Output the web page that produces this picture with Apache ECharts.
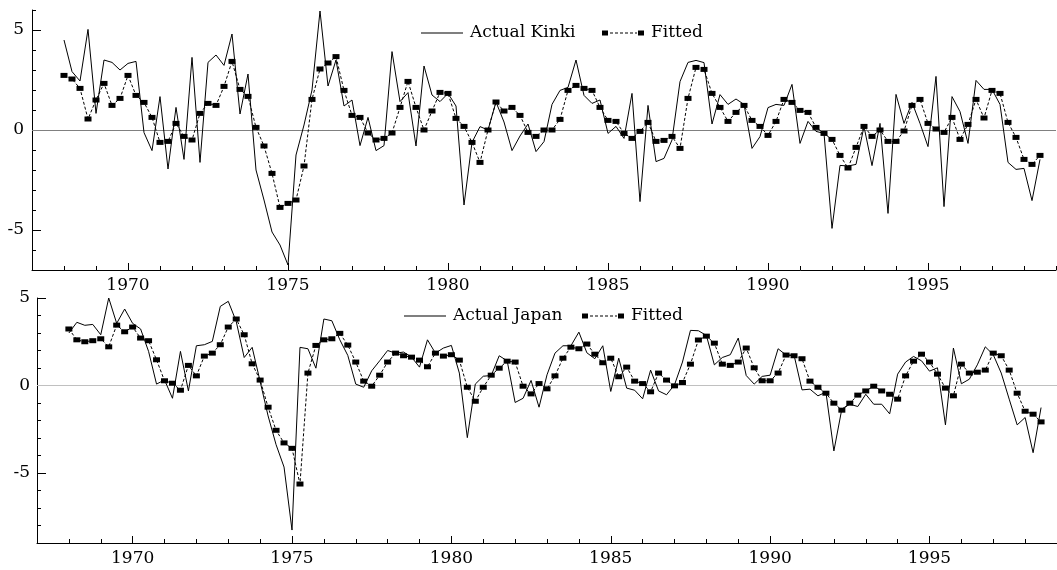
<!DOCTYPE html>
<html>
<head>
<meta charset="utf-8">
<script src="https://cdn.jsdelivr.net/npm/echarts@6/dist/echarts.min.js"></script>
<style>
html,body{margin:0;padding:0;background:#fff;}
#chart{width:1057px;height:570px;}
</style>
</head>
<body>
<div id="chart"></div>
<script>
// Quarterly data, first observation 1968 Q1
var startYear = 1968;
var kinkiActual = [4.5,2.92,2.45,5.03,0.83,3.5,3.38,3.0,3.33,3.43,-0.13,-1.03,1.67,-1.95,1.13,-1.47,3.63,-1.62,3.38,3.75,3.23,4.8,0.8,2.8,-2.0,-3.5,-5.1,-5.75,-6.75,-1.25,0.25,2.0,5.95,2.2,3.5,1.2,1.5,-0.78,0.63,-1.03,-0.78,3.92,1.42,1.87,-0.8,3.2,1.75,1.42,1.83,1.2,-3.75,-0.62,0.17,0.0,1.4,0.4,-1.03,-0.3,0.3,-1.08,-0.58,1.28,1.98,2.13,3.5,1.73,1.33,1.5,-0.17,0.18,-0.42,1.83,-3.58,1.23,-1.58,-1.42,-0.5,2.42,3.38,3.48,3.37,0.3,1.77,1.28,1.55,1.28,-0.92,-0.33,1.12,1.28,1.23,2.28,-0.67,0.43,-0.07,-0.17,-4.92,-1.77,-1.8,-1.72,0.17,-1.78,0.33,-4.17,1.78,0.33,1.38,0.33,-0.83,2.68,-3.83,1.67,0.92,-0.67,2.48,2.03,2.03,1.28,-1.62,-1.97,-1.92,-3.53,-1.47];
var kinkiFitted = [2.73,2.55,2.08,0.55,1.5,2.33,1.23,1.58,2.73,1.73,1.38,0.63,-0.62,-0.57,0.33,-0.32,-0.5,0.83,1.33,1.23,2.18,3.43,2.03,1.68,0.13,-0.8,-2.17,-3.87,-3.67,-3.5,-1.8,1.53,3.05,3.35,3.67,1.98,0.73,0.63,-0.15,-0.5,-0.42,-0.15,1.13,2.43,1.13,0.0,0.95,1.88,1.83,0.58,0.18,-0.62,-1.62,0.0,1.4,0.95,1.13,0.73,-0.12,-0.32,0.0,0.0,0.53,1.98,2.23,2.08,1.98,1.13,0.48,0.43,-0.17,-0.42,-0.07,0.38,-0.57,-0.52,-0.32,-0.92,1.58,3.13,3.03,1.83,1.13,0.43,0.88,1.23,0.48,0.18,-0.27,0.43,1.53,1.38,0.98,0.88,0.13,-0.17,-0.47,-1.27,-1.9,-0.87,0.18,-0.32,0.0,-0.57,-0.57,-0.05,1.23,1.53,0.33,0.05,-0.12,0.63,-0.47,0.28,1.53,0.6,1.98,1.83,0.38,-0.37,-1.47,-1.72,-1.27];
var japanActual = [3.0,3.61,3.44,3.49,2.9,5.0,3.55,4.37,3.55,3.23,1.95,0.08,0.32,-0.73,1.95,-0.31,2.27,2.33,2.52,4.52,4.81,3.66,1.6,2.18,0.23,-1.74,-3.38,-4.66,-8.26,2.18,2.1,0.99,3.8,3.7,2.61,1.72,0.08,-0.1,0.84,1.41,2.0,1.85,1.91,1.62,1.05,2.61,1.85,2.14,2.29,0.71,-2.98,0.08,0.53,0.57,1.7,1.41,-0.97,-0.73,0.29,-1.24,0.61,1.85,2.27,2.27,3.05,1.87,1.53,2.27,-0.34,1.56,-0.15,-0.27,-0.76,0.88,-0.31,-0.53,0.04,1.34,3.15,3.13,2.86,1.18,1.6,1.76,2.71,0.57,0.08,0.52,0.59,2.1,1.74,1.74,-0.25,-0.21,-0.59,-0.38,-3.74,-1.34,-1.07,-1.2,-0.5,-1.07,-1.07,-1.62,0.65,1.34,1.66,1.41,0.82,1.01,-2.25,2.14,0.1,0.36,1.18,2.21,1.76,0.71,-0.78,-2.25,-1.83,-3.84,-1.26];
var japanFitted = [3.23,2.61,2.5,2.56,2.67,2.21,3.45,3.07,3.34,2.71,2.56,1.47,0.27,0.13,-0.27,1.15,0.55,1.68,1.85,2.33,3.34,3.8,2.9,1.24,0.31,-1.24,-2.56,-3.28,-3.59,-5.63,0.71,2.29,2.61,2.67,2.98,2.31,1.34,0.25,-0.04,0.59,1.34,1.85,1.7,1.62,1.45,1.07,1.85,1.68,1.76,1.45,-0.1,-0.9,-0.1,0.59,0.99,1.39,1.34,-0.04,-0.48,0.11,-0.19,0.55,1.56,2.19,2.1,2.37,1.79,1.3,1.56,0.5,1.05,0.25,0.11,-0.36,0.71,0.31,-0.02,0.17,1.22,2.6,2.82,2.42,1.22,1.15,1.34,2.14,1.01,0.27,0.27,0.71,1.74,1.7,1.53,0.25,-0.1,-0.44,-1.01,-1.41,-1.01,-0.55,-0.31,-0.04,-0.31,-0.5,-0.78,0.55,1.39,1.79,1.34,0.65,-0.15,-0.59,1.22,0.71,0.76,0.88,1.85,1.7,0.88,-0.44,-1.47,-1.64,-2.08];
var yearTicks = [1970,1975,1980,1985,1990,1995];
var yTicks = [-5,0,5];
var names = {kinki:'Actual Kinki', japan:'Actual Japan', fitted:'Fitted'};

function pairs(vals){
  return vals.map(function(v,i){ return [startYear + i/4, v]; });
}

var FONT = 'DejaVu Serif';
var lineIcon = 'path://M0,0h42v1h-42z';
var fitIcon = 'path://M0,0h6v5h-6z M36,0h6v5h-6z M8,2h3v1h-3z M13,2h3v1h-3z M18,2h3v1h-3z M23,2h3v1h-3z M28,2h3v1h-3z M33,2h2v1h-2z';
function plain(v){ return String(v); }

function majorX(grid){
  return {type:'value', gridIndex:grid, position:'bottom', min:1967, max:1999,
    axisLine:{show:true, onZero:false, lineStyle:{color:'#000', width:1}},
    axisTick:{show:true, inside:true, length:7, customValues:yearTicks, lineStyle:{color:'#000'}},
    axisLabel:{show:true, customValues:yearTicks, margin:7, formatter:plain, fontFamily:FONT, fontSize:17, color:'#000'},
    splitLine:{show:false}};
}
function minorX(grid){
  return {type:'value', gridIndex:grid, position:'bottom', min:1967, max:1999, interval:1,
    axisLine:{show:false, onZero:false}, axisTick:{show:true, inside:true, length:4, lineStyle:{color:'#000'}},
    axisLabel:{show:false}, splitLine:{show:false}};
}
function majorY(grid, mn, mx, margin){
  return {type:'value', gridIndex:grid, position:'left', min:mn, max:mx,
    axisLine:{show:true, onZero:false, lineStyle:{color:'#000', width:1}},
    axisTick:{show:true, inside:true, length:9, customValues:yTicks, lineStyle:{color:'#000'}},
    axisLabel:{show:true, customValues:yTicks, margin:margin, formatter:plain, fontFamily:FONT, fontSize:17, color:'#000'},
    splitLine:{show:false}};
}
function minorY(grid, mn, mx){
  return {type:'value', gridIndex:grid, position:'left', min:mn, max:mx, interval:1,
    axisLine:{show:false, onZero:false}, axisTick:{show:true, inside:true, length:4, lineStyle:{color:'#000'}},
    axisLabel:{show:false}, splitLine:{show:false}};
}
function actualSeries(name, vals, xi, yi, zeroColor){
  return {type:'line', name:name, xAxisIndex:xi, yAxisIndex:yi, data:pairs(vals),
    symbol:'none', showSymbol:false, lineStyle:{color:'#000', width:1}, itemStyle:{color:'#000'},
    z:3, silent:true,
    markLine:{silent:true, symbol:['none','none'], label:{show:false},
      lineStyle:{color:zeroColor, width:1, type:'solid'}, data:[{yAxis:0}], z:1}};
}
function fittedSeries(vals, xi, yi){
  return {type:'line', name:names.fitted, xAxisIndex:xi, yAxisIndex:yi, data:pairs(vals),
    symbol:'rect', symbolSize:[7,5], showSymbol:true,
    lineStyle:{color:'#000', width:1, type:[3,2]}, itemStyle:{color:'#000', borderWidth:0},
    z:4, silent:true};
}
function legendAt(name, icon, left, top){
  return {show:true, left:left, top:top, padding:0, itemWidth:42, itemHeight:5, symbolKeepAspect:true,
    selectedMode:false, itemStyle:{color:'#000', borderWidth:0},
    textStyle:{fontFamily:FONT, fontSize:17, color:'#000', lineHeight:18, padding:[0,0,0,2]},
    data:[{name:name, icon:icon}]};
}

var chart = echarts.init(document.getElementById('chart'), null, {renderer:'canvas'});
chart.setOption({
  animation:false,
  backgroundColor:'#fff',
  grid:[
    {left:32, top:10, width:1024, height:260},
    {left:37, top:298, width:1025.3, height:245}
  ],
  xAxis:[majorX(0), minorX(0), majorX(1), minorX(1)],
  yAxis:[majorY(0,-7,6,8), minorY(0,-7,6), majorY(1,-9,5,7), minorY(1,-9,5)],
  legend:[
    legendAt(names.kinki, lineIcon, 421, 24),
    legendAt(names.fitted, fitIcon, 602, 24),
    legendAt(names.japan, lineIcon, 404, 307),
    legendAt(names.fitted, fitIcon, 582, 307)
  ],
  series:[
    actualSeries(names.kinki, kinkiActual, 0, 0, '#808080'),
    fittedSeries(kinkiFitted, 0, 0),
    actualSeries(names.japan, japanActual, 2, 2, '#c0c0c0'),
    fittedSeries(japanFitted, 2, 2)
  ]
});
</script>
</body>
</html>
